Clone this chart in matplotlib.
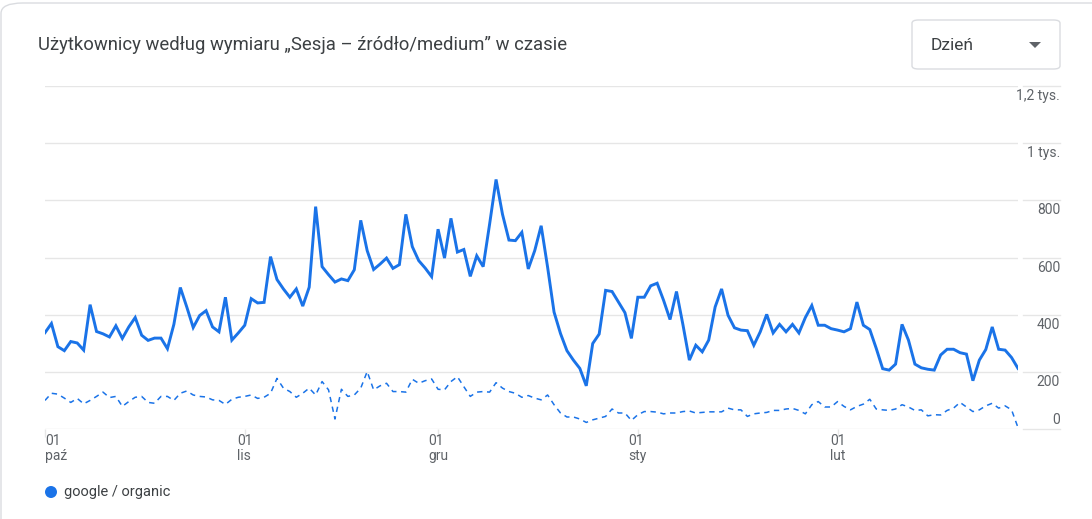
import matplotlib
matplotlib.use("Agg")
import matplotlib.pyplot as plt
from matplotlib.patches import FancyBboxPatch, Polygon, Ellipse
from matplotlib.transforms import offset_copy, blended_transform_factory

# ---- data ----
users = [
    337, 369, 288, 274, 306, 301, 276, 435, 341, 333, 322, 361, 317, 357, 390, 328,
    310, 318, 318, 281, 366, 495, 427, 355, 397, 414,
    357, 340, 461, 311, 336, 363, 456, 441, 443, 603, 523, 490, 461, 490, 430, 496,
    778, 568, 540, 514, 525, 519, 557, 730, 624,
    558, 577, 598, 562, 575, 751, 638, 589, 563, 533, 699, 598, 737, 619, 628, 534,
    606, 568, 717, 873, 751, 661, 659, 688, 560,
    624, 711, 566, 409, 334, 274, 241, 212, 151, 299, 332, 485, 481, 444, 407, 317,
    461, 461, 501, 510, 450, 383, 481, 365, 241,
    293, 270, 311, 427, 490, 398, 354, 346, 344, 293, 340, 401, 336, 366, 340, 366,
    336, 390, 432, 363, 363, 351, 346, 340, 351,
    444, 363, 348, 282, 211, 206, 227, 366, 311, 227, 214, 209, 206, 259, 279, 279,
    267, 262, 169, 241, 278, 357, 279, 276, 250, 212,
]
users_prev = [
    100, 125, 122, 108, 93, 107, 88, 100, 114, 129, 110, 114, 79, 96, 111, 114,
    93, 90, 114, 114, 100, 125, 133, 119, 114, 112,
    102, 100, 86, 104, 111, 114, 119, 107, 111, 125, 177, 143, 131, 111, 125, 143,
    119, 166, 137, 35, 139, 114, 119, 143, 201,
    137, 151, 160, 131, 131, 129, 174, 160, 169, 175, 139, 137, 166, 183, 148, 114,
    129, 131, 129, 162, 143, 131, 125, 111, 117,
    108, 102, 119, 85, 56, 42, 42, 35, 23, 32, 38, 44, 70, 56, 56, 30,
    50, 61, 61, 59, 53, 56, 56, 61, 63,
    56, 58, 60, 60, 60, 73, 67, 67, 44, 53, 56, 58, 65, 65, 70, 72,
    65, 53, 85, 96, 77, 77, 96, 79, 67,
    79, 87, 104, 70, 67, 65, 70, 85, 77, 65, 67, 46, 50, 49, 65, 73,
    93, 77, 61, 67, 81, 90, 73, 81, 67, 5,
]
days = list(range(len(users)))

month_ticks = [0, 31, 61, 92, 123]
month_labels = ["01\npaź", "01\nlis", "01\ngru", "01\nsty", "01\nlut"]
y_ticks = [0, 200, 400, 600, 800, 1000, 1200]
y_labels = ["0", "200", "400", "600", "800", "1 tys.", "1,2 tys."]

title = "Użytkownicy według wymiaru „Sesja – źródło/medium” w czasie"
series_name = "google / organic"

BLUE = "#1a73e8"
GRID = "#e6e6e6"
TXT = "#5f6368"

plt.rcParams["font.family"] = ["Roboto", "DejaVu Sans"]

W, H = 1092, 519
fig = plt.figure(figsize=(W / 100, H / 100), dpi=100)


def fx(x):
    return x / W


def fy(y):
    return 1 - y / H


ax = fig.add_axes([fx(45), fy(429), fx(1018) - fx(45), fy(86) - fy(429)])
ax.set_xlim(0, 151)
ax.set_ylim(0, 1200)

# grid lines, with a short segment under the labels
gtr = blended_transform_factory(fig.transFigure, ax.transData)
for v in y_ticks:
    ax.axhline(v, color=GRID, lw=1, zorder=0)
    ax.plot([fx(1023), fx(1060)], [v, v], color=GRID, lw=1, transform=gtr,
            clip_on=False, zorder=0)

ax.plot(days, users_prev, color=BLUE, lw=1.1, dashes=(3.5, 3), zorder=2)
ax.plot(days, users, color=BLUE, lw=2.1, zorder=3, solid_joinstyle="miter")

# y labels on the right, sitting just under each grid line
for v, lab in zip(y_ticks, y_labels):
    dy = 9 if v == 0 else -10
    tr = offset_copy(gtr, fig=fig, x=0, y=dy * 0.72, units="points")
    ax.text(fx(1060), v, lab, transform=tr, ha="right", va="center",
            fontsize=10, color=TXT)

for s in ax.spines.values():
    s.set_visible(False)
ax.set_yticks([])
ax.set_xticks(month_ticks)
ax.set_xticklabels([])
ax.tick_params(axis="x", length=6, width=1, color=GRID)

xtr = blended_transform_factory(ax.transData, fig.transFigure)
for i, (t, lab) in enumerate(zip(month_ticks, month_labels)):
    ax.text(t, fy(434), lab, transform=xtr, ha="left" if i == 0 else "center",
            va="top", fontsize=10, color=TXT, linespacing=1.1, multialignment="left")

# card outline
card = FancyBboxPatch((fx(1), fy(700)), fx(1200), fy(3) - fy(700),
                      boxstyle="round,pad=0,rounding_size=0.02",
                      transform=fig.transFigure, fc="none", ec="#dadce0", lw=1)
fig.patches.append(card)

fig.text(fx(38), fy(45), title, fontsize=13.3, color="#3c4043", va="center")

# "Dzień" dropdown
box = FancyBboxPatch((fx(912), fy(69)), fx(148), fy(20) - fy(69),
                     boxstyle="round,pad=0,rounding_size=0.006",
                     transform=fig.transFigure, fc="white", ec="#dadce0", lw=1)
fig.patches.append(box)
fig.text(fx(931), fy(45), "Dzień", fontsize=12.5, color="#3c4043", va="center")
tri = Polygon([(fx(1029), fy(42)), (fx(1041), fy(42)), (fx(1035), fy(48))],
              closed=True, transform=fig.transFigure, fc="#5f6368", ec="none")
fig.patches.append(tri)

# legend
fig.patches.append(Ellipse((fx(51), fy(492)), 12 / W, 12 / H,
                           transform=fig.transFigure, fc=BLUE, ec="none"))
fig.text(fx(64), fy(492), series_name, fontsize=10.5, color="#3c4043", va="center")

fig.savefig("out.png", dpi=100)
